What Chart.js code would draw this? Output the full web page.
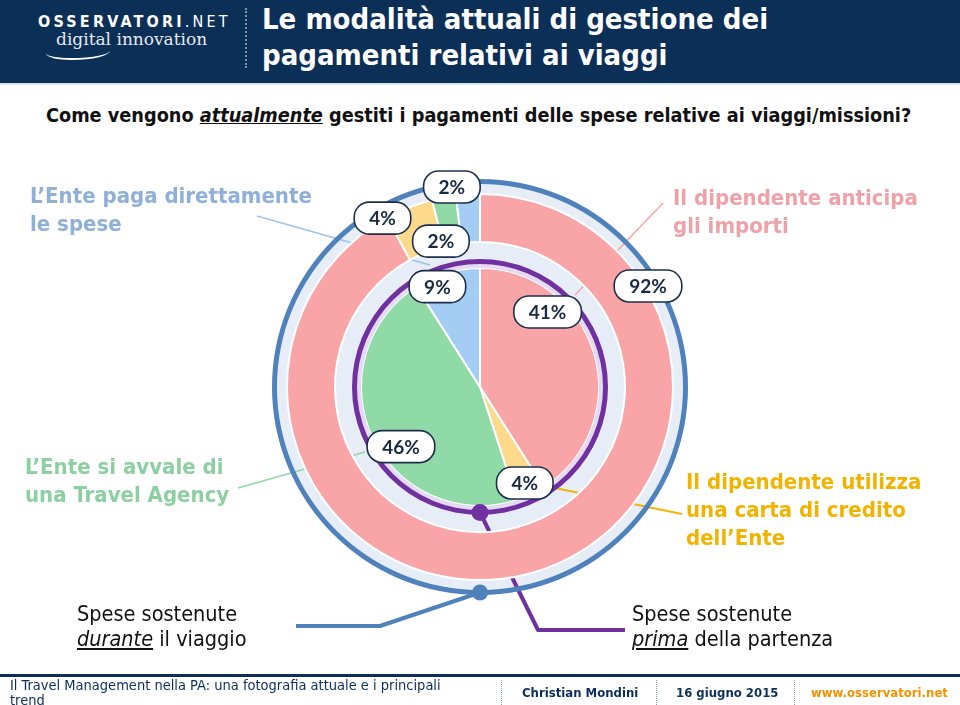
<!DOCTYPE html>
<html lang="it">
<head>
<meta charset="utf-8">
<title>Le modalità attuali di gestione dei pagamenti relativi ai viaggi</title>
<script src="https://cdn.jsdelivr.net/npm/chart.js@4.4.1/dist/chart.umd.min.js"></script>
<style>
  html, body { margin: 0; padding: 0; }
  body {
    width: 960px; height: 705px; position: relative; overflow: hidden;
    background: #fff; font-family: 'DejaVu Sans Condensed', 'DejaVu Sans', sans-serif;
  }
  #header { position: absolute; left: 0; top: 0; width: 960px; height: 83px; background: #0c2f58; border-bottom: 2px solid #dfe4ec; }
  #brand { position: absolute; left: 38px; top: 12px; color: #fff; font-size: 16px; font-weight: bold; letter-spacing: 3.2px; }
  #brand span { font-weight: normal; }
  #tagline { position: absolute; left: 56px; top: 29px; color: #e4e9f0; font-family: 'DejaVu Serif', serif; font-size: 17px; }
  #swoosh { position: absolute; left: 46px; top: 44px; width: 64px; height: 14px; border-bottom: 2px solid #fff; border-radius: 0 0 60% 40%; }
  #sep { position: absolute; left: 245px; top: 8px; height: 60px; border-left: 2px dotted #7f93ad; }
  #title { position: absolute; left: 262px; top: 1px; color: #fff; font-size: 29px; font-weight: bold; line-height: 36px; }
  #question { position: absolute; left: 46px; top: 104px; font-size: 19.7px; font-weight: bold; color: #111; }
  #question i { text-decoration: underline; }
  canvas { position: absolute; left: 0; top: 0; }
  .cat { position: absolute; font-size: 22px; line-height: 28px; font-weight: bold; }
  .side { position: absolute; font-size: 21.5px; line-height: 25px; color: #111; }
  .side i { text-decoration: underline; }
  #footline { position: absolute; left: 0; top: 674px; width: 960px; height: 3px; background: #0c2f58; }
  .foot { position: absolute; top: 678px; font-size: 13px; line-height: 15px; color: #0c2f58; }
  .fsep { position: absolute; top: 680px; height: 25px; border-left: 1px dotted #8a9bb3; }
</style>
</head>
<body>
<div id="header">
  <div id="brand">OSSERVATORI<span>.NET</span></div>
  <div id="tagline">digital innovation</div>
  <div id="swoosh"></div>
  <div id="sep"></div>
  <div id="title">Le modalità attuali di gestione dei<br>pagamenti relativi ai viaggi</div>
</div>
<div id="question">Come vengono <i>attualmente</i> gestiti i pagamenti delle spese relative ai viaggi/missioni?</div>

<canvas id="chart" width="960" height="705"></canvas>

<div class="cat" style="left:30px; top:182px; color:#8fb0d6;">L’Ente paga direttamente<br>le spese</div>
<div class="cat" style="left:673px; top:184px; color:#eda1a8;">Il dipendente anticipa<br>gli importi</div>
<div class="cat" style="left:25px; top:453px; color:#8dcfa0;">L’Ente si avvale di<br>una Travel Agency</div>
<div class="cat" style="left:686px; top:468px; color:#f0b400;">Il dipendente utilizza<br>una carta di credito<br>dell’Ente</div>

<div class="side" style="left:77px; top:601px;">Spese sostenute<br><i>durante</i> il viaggio</div>
<div class="side" style="left:632px; top:601px;">Spese sostenute<br><i>prima</i> della partenza</div>

<div id="footline"></div>
<div class="foot" style="left:10px; width:455px; font-size:14.5px; top:678px;">Il Travel Management nella PA: una fotografia attuale e i principali trend</div>
<div class="fsep" style="left:501px;"></div>
<div class="foot" style="left:522px; top:685px; font-weight:bold;">Christian Mondini</div>
<div class="fsep" style="left:656px;"></div>
<div class="foot" style="left:676px; top:685px; font-weight:bold;">16 giugno 2015</div>
<div class="fsep" style="left:794px;"></div>
<div class="foot" style="left:811px; top:685px; font-weight:bold; color:#f39200;">www.osservatori.net</div>

<script>
// categories, same order in both rings (clockwise from the top)
const categories = [
  'Il dipendente anticipa gli importi',
  'Il dipendente utilizza una carta di credito dell’Ente',
  'L’Ente si avvale di una Travel Agency',
  'L’Ente paga direttamente le spese'
];
// outer ring: spese sostenute durante il viaggio (%)
const duranteViaggio = [92, 4, 2, 2];
// inner pie: spese sostenute prima della partenza (%)
const primaPartenza = [41, 4, 46, 9];

const catColors = ['#f9a5a8', '#fdd98b', '#8fdaa7', '#a4cdf6'];

// where the percentage pills sit: [degrees clockwise from top, distance from centre]
const outerPills = [[59, 196], [330, 195], [352, 202], [345, 151]];
const innerPills = [[42, 101], [155, 106], [233, 99], [337, 109]];

// callout lines from the category texts (drawn under the rings)
const callouts = [
  { color: '#9dc3ea', width: 1.5, pts: [[257, 216], [430, 265]] },
  { color: '#f4a6ab', width: 1.5, pts: [[663, 203], [575, 295]] },
  { color: '#94d5a8', width: 1.5, pts: [[238, 488], [365, 452]] },
  { color: '#f2b50a', width: 2, pts: [[682, 514], [555, 488]] }
];

const OUTER = 0, DATA_OUT = 2, PURPLE = 4, DATA_IN = 6;

function pill(ctx, x, y, text) {
  ctx.font = 'bold 19px Lato, sans-serif';
  const w = ctx.measureText(text).width + 30, h = 32;
  ctx.beginPath();
  ctx.roundRect(x - w / 2, y - h / 2, w, h, 15);
  ctx.fillStyle = '#fff';
  ctx.fill();
  ctx.lineWidth = 1.6;
  ctx.strokeStyle = '#1d2e4a';
  ctx.stroke();
  ctx.fillStyle = '#1b2a44';
  ctx.textAlign = 'center';
  ctx.textBaseline = 'middle';
  ctx.fillText(text, x, y + 1);
}

function polar(cx, cy, deg, r) {
  const a = (deg - 90) * Math.PI / 180;
  return [cx + r * Math.cos(a), cy + r * Math.sin(a)];
}

function line(ctx, pts, color, width) {
  ctx.beginPath();
  ctx.moveTo(pts[0][0], pts[0][1]);
  pts.slice(1).forEach(p => ctx.lineTo(p[0], p[1]));
  ctx.strokeStyle = color;
  ctx.lineWidth = width;
  ctx.lineJoin = 'round';
  ctx.stroke();
}

const decor = {
  id: 'decor',
  beforeDatasetsDraw(chart) {
    const ctx = chart.ctx;
    const rim = chart.getDatasetMeta(OUTER).data[0];
    const ring = chart.getDatasetMeta(PURPLE).data[0];
    ctx.save();
    // pale band behind the rings
    ctx.beginPath();
    ctx.arc(rim.x, rim.y, rim.innerRadius, 0, Math.PI * 2);
    ctx.fillStyle = '#e6edf6';
    ctx.fill();
    callouts.forEach(c => line(ctx, c.pts, c.color, c.width));
    // purple callout: prima della partenza
    const pb = ring.y + (ring.innerRadius + ring.outerRadius) / 2;
    line(ctx, [[ring.x, pb], [538, 630], [625, 630]], '#7030a0', 4);
    ctx.restore();
  },
  afterDatasetsDraw(chart) {
    const ctx = chart.ctx;
    const rim = chart.getDatasetMeta(OUTER).data[0];
    const ring = chart.getDatasetMeta(PURPLE).data[0];
    ctx.save();
    // blue callout: durante il viaggio
    const rb = rim.y + (rim.innerRadius + rim.outerRadius) / 2;
    line(ctx, [[rim.x, rb], [380, 626], [296, 626]], '#4f81bd', 4);
    ctx.beginPath();
    ctx.arc(rim.x, rb, 8, 0, Math.PI * 2);
    ctx.fillStyle = '#4f81bd';
    ctx.fill();
    const pb = ring.y + (ring.innerRadius + ring.outerRadius) / 2;
    ctx.beginPath();
    ctx.arc(ring.x, pb, 8.5, 0, Math.PI * 2);
    ctx.fillStyle = '#7030a0';
    ctx.fill();
    // percentage pills
    const outerMeta = chart.getDatasetMeta(DATA_OUT);
    const innerMeta = chart.getDatasetMeta(DATA_IN);
    duranteViaggio.forEach((v, i) => {
      const a = outerMeta.data[i];
      const [x, y] = polar(a.x, a.y, outerPills[i][0], outerPills[i][1]);
      pill(ctx, x, y, v + '%');
    });
    primaPartenza.forEach((v, i) => {
      const a = innerMeta.data[i];
      const [x, y] = polar(a.x, a.y, innerPills[i][0], innerPills[i][1]);
      pill(ctx, x, y, v + '%');
    });
    ctx.restore();
  }
};

const clear = 'rgba(0,0,0,0)';

new Chart(document.getElementById('chart'), {
  type: 'doughnut',
  data: {
    labels: categories,
    datasets: [
      { label: 'bordo', data: [1], backgroundColor: '#4f81bd', borderWidth: 0, weight: 5 },
      { label: 'spazio', data: [1], backgroundColor: clear, borderWidth: 0, weight: 10 },
      { label: 'Spese sostenute durante il viaggio', data: duranteViaggio, backgroundColor: catColors,
        borderColor: '#fff', borderWidth: 2, weight: 48 },
      { label: 'spazio', data: [1], backgroundColor: clear, borderWidth: 0, weight: 17 },
      { label: 'anello', data: [1], backgroundColor: '#7030a0', borderWidth: 0, weight: 5 },
      { label: 'fascia', data: [1], backgroundColor: '#e4daf3', borderWidth: 0, weight: 4 },
      { label: 'Spese sostenute prima della partenza', data: primaPartenza, backgroundColor: catColors,
        borderColor: '#fff', borderWidth: 2, weight: 119 }
    ]
  },
  options: {
    responsive: false,
    animation: false,
    cutout: 0,
    radius: 208,
    layout: { padding: { left: 0, right: 0, top: 179, bottom: 110 } },
    plugins: {
      legend: { display: false },
      tooltip: { enabled: false }
    }
  },
  plugins: [decor]
});
</script>
</body>
</html>
